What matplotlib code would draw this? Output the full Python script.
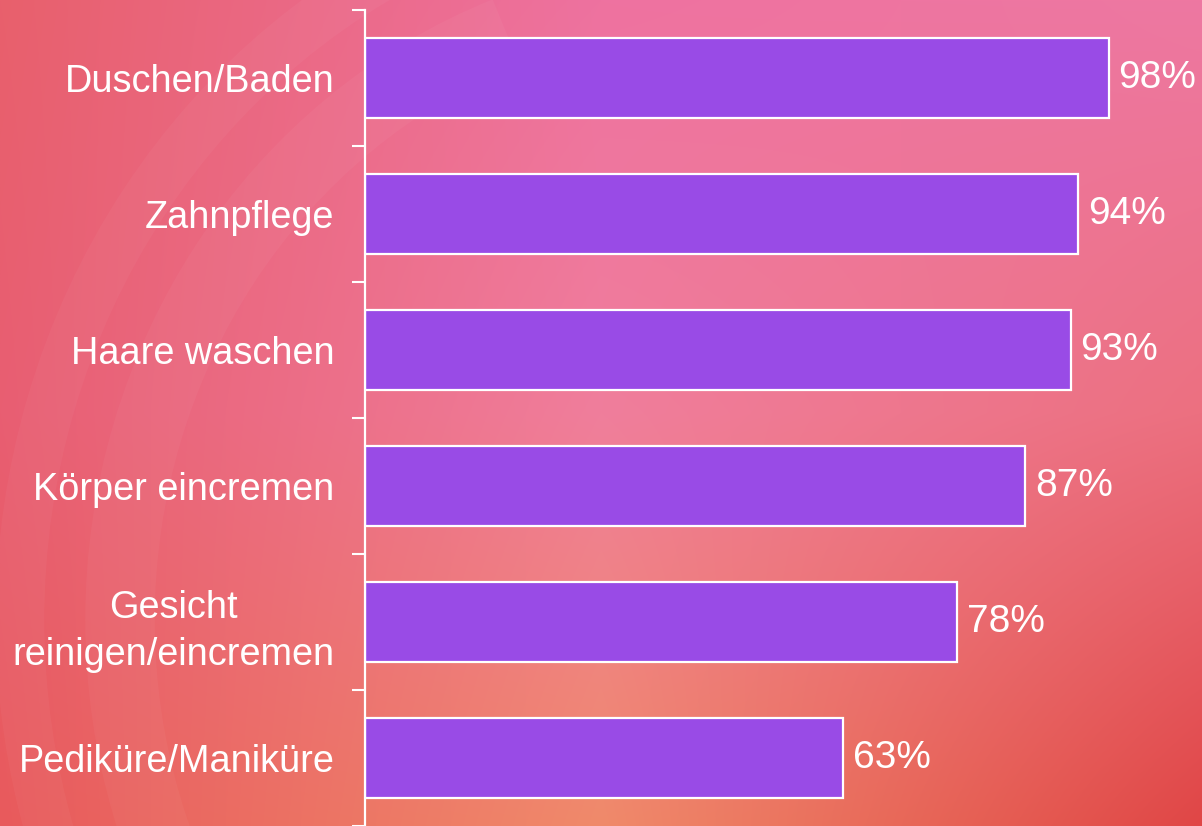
import matplotlib
matplotlib.use("Agg")
import matplotlib.pyplot as plt
import numpy as np
from matplotlib.colors import to_rgb
from matplotlib.patches import Arc

plt.rcParams['font.family'] = ['Liberation Sans', 'DejaVu Sans']

categories = ['Duschen/Baden', 'Zahnpflege', 'Haare waschen', 'Körper eincremen',
              'Gesicht\nreinigen/eincremen', 'Pediküre/Maniküre']
values = [98, 94, 93, 87, 78, 63]

W, H = 1202, 826
fig = plt.figure(figsize=(W / 100, H / 100), dpi=100)

# background: smooth pink/orange/red gradient from a 3x3 grid of colours
grid = [['#E8606C', '#EE72A0', '#EE78A2'],
        ['#E85E72', '#F07E9C', '#EC7080'],
        ['#E85A5C', '#F08A6A', '#E04646']]
g = np.array([[to_rgb(c) for c in row] for row in grid])
yy, xx = np.mgrid[0:1:H * 1j, 0:1:W * 1j]
gx, gy = xx * 2, yy * 2
ix = np.clip(gx.astype(int), 0, 1)
iy = np.clip(gy.astype(int), 0, 1)
fx = (gx - ix)[..., None]
fy = (gy - iy)[..., None]
img = (g[iy, ix] * (1 - fx) * (1 - fy) + g[iy, ix + 1] * fx * (1 - fy)
       + g[iy + 1, ix] * (1 - fx) * fy + g[iy + 1, ix + 1] * fx * fy)

bg = fig.add_axes([0, 0, 1, 1])
bg.imshow(img, extent=(0, W, H, 0), aspect='auto', interpolation='bilinear')
for r, lw in [(600, 50), (700, 35)]:
    bg.add_patch(Arc((720, 620), 2 * r, 2 * r * 1.05, theta1=110, theta2=250,
                     color='white', alpha=0.035, lw=lw))
bg.set_xlim(0, W)
bg.set_ylim(H, 0)
bg.axis('off')

ax = fig.add_axes([365 / W, 0, (W - 365) / W, 816 / H])
ax.patch.set_alpha(0)
y = np.arange(len(categories))
bars = ax.barh(y, values, height=0.59, color='#994BE6', edgecolor='white', linewidth=1.6)
ax.set_ylim(len(categories) - 0.5, -0.5)
ax.set_xlim(0, (W - 365) / 7.59)

for rect, v in zip(bars, values):
    ax.annotate(f'{v}%', (rect.get_width(), rect.get_y() + rect.get_height() / 2),
                xytext=(7, 0), textcoords='offset points', va='center', ha='left',
                color='white', fontsize=28)

ax.set_yticks(y)
ax.set_yticklabels(categories, fontsize=27.3, color='white', multialignment='center',
                   linespacing=1.4)
ax.set_yticks(np.arange(-0.5, len(categories), 1), minor=True)
ax.tick_params(axis='y', which='major', length=0, pad=22)
ax.tick_params(axis='y', which='minor', length=9.5, width=1.5, color='white')
ax.set_xticks([])
for s in ['top', 'right', 'bottom']:
    ax.spines[s].set_visible(False)
ax.spines['left'].set_color('white')
ax.spines['left'].set_linewidth(1.6)

fig.savefig('out.png', dpi=100)
